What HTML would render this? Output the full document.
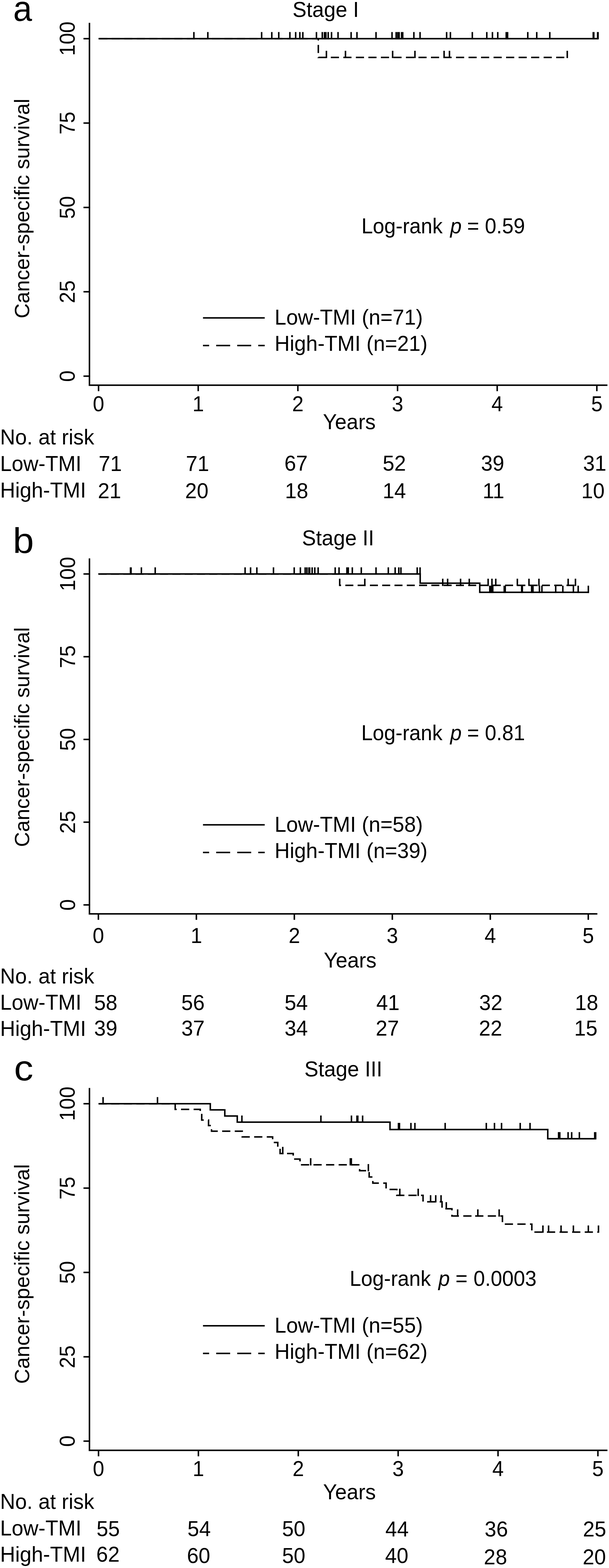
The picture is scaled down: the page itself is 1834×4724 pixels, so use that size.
<!DOCTYPE html>
<html><head><meta charset="utf-8"><title>Cancer-specific survival by TMI, stages I-III</title>
<style>
html,body{margin:0;padding:0;background:#fff;}
svg{display:block;}
text{font-family:"Liberation Sans",Arial,Helvetica,sans-serif;font-size:63px;fill:#000;}
path{stroke:#000;stroke-width:4.5;fill:none;stroke-linecap:butt;stroke-linejoin:miter;}
.ldash{stroke-dasharray:42 21.3;stroke-dashoffset:23.5;}
</style></head>
<body>
<svg width="1834" height="4724" viewBox="0 0 1834 4724">
<rect width="1834" height="4724" fill="#fff"/>
<!-- panel a -->
<text transform="translate(39.7 63.0) scale(0.99 1.045)" style="font-size:103px">a</text>
<text transform="translate(881.1 50.9) scale(1 1.03)">Stage I</text>
<path d="M269.4 68.8V1162.8M267.1 1160.6H1829.3M251.4 1133.3H269.4M251.4 879.1H269.4M251.4 624.9H269.4M251.4 370.7H269.4M251.4 116.5H269.4M296.8 1160.6V1178.6M596.9 1160.6V1178.6M897.0 1160.6V1178.6M1197.2 1160.6V1178.6M1497.3 1160.6V1178.6M1797.4 1160.6V1178.6"/>
<text transform="translate(225.0 1133.3) rotate(-90) scale(1 1.045)" style="font-size:62px" text-anchor="middle">0</text>
<text transform="translate(225.0 879.1) rotate(-90) scale(1 1.045)" style="font-size:62px" text-anchor="middle">25</text>
<text transform="translate(225.0 624.9) rotate(-90) scale(1 1.045)" style="font-size:62px" text-anchor="middle">50</text>
<text transform="translate(225.0 370.7) rotate(-90) scale(1 1.045)" style="font-size:62px" text-anchor="middle">75</text>
<text transform="translate(225.0 116.5) rotate(-90) scale(1 1.045)" style="font-size:62px" text-anchor="middle">100</text>
<text transform="translate(88.0 628.3) rotate(-90)" style="font-size:62.7px" text-anchor="middle">Cancer-specific survival</text>
<text transform="translate(296.8 1239.0) scale(1 1.045)" style="font-size:62px" text-anchor="middle">0</text>
<text transform="translate(596.9 1239.0) scale(1 1.045)" style="font-size:62px" text-anchor="middle">1</text>
<text transform="translate(897.0 1239.0) scale(1 1.045)" style="font-size:62px" text-anchor="middle">2</text>
<text transform="translate(1197.2 1239.0) scale(1 1.045)" style="font-size:62px" text-anchor="middle">3</text>
<text transform="translate(1497.3 1239.0) scale(1 1.045)" style="font-size:62px" text-anchor="middle">4</text>
<text transform="translate(1797.4 1239.0) scale(1 1.045)" style="font-size:62px" text-anchor="middle">5</text>
<text transform="translate(972.6 1292.6) scale(1 1.03)">Years</text>
<path d="M296.7 116.5L1802.0 116.5"/>
<path d="M583.9 118.5V96.5M625.9 118.5V96.5M787.9 118.5V96.5M818.5 118.5V96.5M839.5 118.5V96.5M873.0 118.5V96.5M890.4 118.5V96.5M903.0 118.5V96.5M912.0 118.5V96.5M953.0 118.5V96.5M970.6 118.5V96.5M977.2 118.5V96.5M981.4 118.5V96.5M988.4 118.5V96.5M998.4 118.5V96.5M1018.0 118.5V96.5M1057.4 118.5V96.5M1075.0 118.5V96.5M1132.4 118.5V96.5M1180.6 118.5V96.5M1193.0 118.5V96.5M1198.0 118.5V96.5M1202.0 118.5V96.5M1209.5 118.5V96.5M1212.8 118.5V96.5M1246.4 118.5V96.5M1265.0 118.5V96.5M1345.0 118.5V96.5M1356.4 118.5V96.5M1422.4 118.5V96.5M1466.0 118.5V96.5M1483.0 118.5V96.5M1499.0 118.5V96.5M1524.5 118.5V96.5M1528.6 118.5V96.5M1589.4 118.5V96.5M1616.4 118.5V96.5M1655.7 118.5V96.5M1786.6 118.5V96.5M1788.2 118.5V96.5M1799.8 118.5V96.5M1801.0 118.5V96.5"/>
<path d="M296.7 116.5L958.6 116.5L958.6 173.0L1708.3 173.0" stroke-dasharray="24.5 13.2" stroke-dashoffset="-2.09"/>
<path d="M983.0 174.9V153.0M1040.4 174.9V153.0M1182.4 174.9V153.0M1249.6 174.9V153.0M1337.4 174.9V153.0M1353.6 174.9V153.0M1708.3 174.9V153.0"/>
<text transform="translate(0 703.2) scale(1 1.05)" style="font-size:62px"><tspan x="1088.4">Log-rank</tspan><tspan x="1355.8" font-style="italic">p</tspan><tspan x="1406.7">=</tspan><tspan x="1460.3">0.59</tspan></text>
<path d="M611.3 957.7L797.2 957.7"/>
<path d="M611.3 1041.0L797.2 1041.0" class="ldash"/>
<text transform="translate(827.1 978.4) scale(1 1.03)">Low-TMI (n=71)</text>
<text transform="translate(827.1 1057.2) scale(1 1.03)">High-TMI (n=21)</text>
<text transform="translate(0.2 1339.2) scale(1 1.03)">No. at risk</text>
<text transform="translate(0.2 1418.6) scale(1 1.03)">Low-TMI</text>
<text transform="translate(0.2 1498.6) scale(1 1.03)">High-TMI</text>
<text transform="translate(297.0 1418.5) scale(1 1.03)">71</text>
<text transform="translate(559.8 1418.5) scale(1 1.03)">71</text>
<text transform="translate(856.4 1418.3) scale(1 1.03)">67</text>
<text transform="translate(1152.5 1418.3) scale(1 1.03)">52</text>
<text transform="translate(1448.4 1418.0) scale(1 1.03)">39</text>
<text transform="translate(1756.0 1417.6) scale(1 1.03)">31</text>
<text transform="translate(294.8 1501.0) scale(1 1.03)">21</text>
<text transform="translate(557.6 1500.5) scale(1 1.03)">20</text>
<text transform="translate(858.2 1500.6) scale(1 1.03)">18</text>
<text transform="translate(1152.5 1500.9) scale(1 1.03)">14</text>
<text transform="translate(1453.4 1501.0) scale(1 1.03)">11</text>
<text transform="translate(1750.7 1500.8) scale(1 1.03)">10</text>
<!-- panel b -->
<text transform="translate(38.7 1666.2) scale(1.105 1.045)" style="font-size:103px">b</text>
<text transform="translate(909.6 1643.2) scale(1 1.03)">Stage II</text>
<path d="M269.4 1682.3V2755.4M267.1 2753.2H1799.0M251.4 2726.2H269.4M251.4 2477.0H269.4M251.4 2227.8H269.4M251.4 1978.5H269.4M251.4 1729.3H269.4M296.3 2753.2V2771.2M591.4 2753.2V2771.2M886.4 2753.2V2771.2M1181.5 2753.2V2771.2M1476.5 2753.2V2771.2M1771.6 2753.2V2771.2"/>
<text transform="translate(225.5 2726.2) rotate(-90) scale(1 1.045)" style="font-size:62px" text-anchor="middle">0</text>
<text transform="translate(225.5 2477.0) rotate(-90) scale(1 1.045)" style="font-size:62px" text-anchor="middle">25</text>
<text transform="translate(225.5 2227.8) rotate(-90) scale(1 1.045)" style="font-size:62px" text-anchor="middle">50</text>
<text transform="translate(225.5 1978.5) rotate(-90) scale(1 1.045)" style="font-size:62px" text-anchor="middle">75</text>
<text transform="translate(225.5 1729.3) rotate(-90) scale(1 1.045)" style="font-size:62px" text-anchor="middle">100</text>
<text transform="translate(88.0 2220.7) rotate(-90)" style="font-size:62.7px" text-anchor="middle">Cancer-specific survival</text>
<text transform="translate(296.3 2841.1) scale(1 1.045)" style="font-size:62px" text-anchor="middle">0</text>
<text transform="translate(591.4 2841.1) scale(1 1.045)" style="font-size:62px" text-anchor="middle">1</text>
<text transform="translate(886.4 2841.1) scale(1 1.045)" style="font-size:62px" text-anchor="middle">2</text>
<text transform="translate(1181.5 2841.1) scale(1 1.045)" style="font-size:62px" text-anchor="middle">3</text>
<text transform="translate(1476.5 2841.1) scale(1 1.045)" style="font-size:62px" text-anchor="middle">4</text>
<text transform="translate(1771.6 2841.1) scale(1 1.045)" style="font-size:62px" text-anchor="middle">5</text>
<text transform="translate(975.0 2914.6) scale(1 1.03)">Years</text>
<path d="M296.0 1729.3L1265.4 1729.3L1265.4 1757.0L1444.8 1757.0L1444.8 1784.5L1773.8 1784.5"/>
<path d="M393.0 1731.2V1709.3M394.6 1731.2V1709.3M425.8 1731.2V1709.3M467.4 1731.2V1709.3M738.1 1731.2V1709.3M754.6 1731.2V1709.3M773.5 1731.2V1709.3M823.6 1731.2V1709.3M886.0 1731.2V1709.3M904.6 1731.2V1709.3M919.0 1731.2V1709.3M924.3 1731.2V1709.3M930.4 1731.2V1709.3M932.6 1731.2V1709.3M940.0 1731.2V1709.3M948.0 1731.2V1709.3M958.1 1731.2V1709.3M1009.4 1731.2V1709.3M1021.0 1731.2V1709.3M1044.7 1731.2V1709.3M1048.8 1731.2V1709.3M1061.0 1731.2V1709.3M1088.0 1731.2V1709.3M1132.4 1731.2V1709.3M1169.4 1731.2V1709.3M1190.0 1731.2V1709.3M1201.0 1731.2V1709.3M1207.4 1731.2V1709.3M1256.4 1731.2V1709.3M1265.0 1731.2V1709.3M1475.0 1786.5V1764.5M1477.0 1786.5V1764.5M1481.0 1786.5V1764.5M1484.0 1786.5V1764.5M1518.5 1786.5V1764.5M1521.5 1786.5V1764.5M1571.0 1786.5V1764.5M1573.0 1786.5V1764.5M1601.0 1786.5V1764.5M1605.0 1786.5V1764.5M1624.5 1786.5V1764.5M1632.0 1786.5V1764.5M1673.5 1786.5V1764.5M1695.0 1786.5V1764.5M1726.8 1786.5V1764.5M1741.2 1786.5V1764.5M1771.8 1786.5V1764.5"/>
<path d="M296.0 1729.3L1023.0 1729.3L1023.0 1763.5L1733.0 1763.5" stroke-dasharray="24.1 12.9" stroke-dashoffset="-1.20"/>
<path d="M1098.6 1765.5V1743.5M1333.3 1765.5V1743.5M1348.0 1765.5V1743.5M1387.0 1765.5V1743.5M1413.2 1765.5V1743.5M1470.0 1765.5V1743.5M1481.5 1765.5V1743.5M1493.0 1765.5V1743.5M1558.0 1765.5V1743.5M1593.0 1765.5V1743.5M1623.0 1765.5V1743.5M1711.0 1765.5V1743.5M1733.0 1765.5V1743.5"/>
<text transform="translate(0 2230.2) scale(1 1.05)" style="font-size:62px"><tspan x="1087.9">Log-rank</tspan><tspan x="1355.8" font-style="italic">p</tspan><tspan x="1406.7">=</tspan><tspan x="1460.3">0.81</tspan></text>
<path d="M611.3 2485.0L797.2 2485.0"/>
<path d="M611.3 2568.3L797.2 2568.3" class="ldash"/>
<text transform="translate(827.1 2505.7) scale(1 1.03)">Low-TMI (n=58)</text>
<text transform="translate(827.1 2584.5) scale(1 1.03)">High-TMI (n=39)</text>
<text transform="translate(0.2 2962.7) scale(1 1.03)">No. at risk</text>
<text transform="translate(0.2 3042.4) scale(1 1.03)">Low-TMI</text>
<text transform="translate(0.2 3121.4) scale(1 1.03)">High-TMI</text>
<text transform="translate(283.4 3043.0) scale(1 1.03)">58</text>
<text transform="translate(546.1 3043.0) scale(1 1.03)">56</text>
<text transform="translate(856.9 3043.0) scale(1 1.03)">54</text>
<text transform="translate(1133.3 3043.0) scale(1 1.03)">41</text>
<text transform="translate(1443.1 3043.0) scale(1 1.03)">32</text>
<text transform="translate(1731.5 3043.0) scale(1 1.03)">18</text>
<text transform="translate(283.5 3120.4) scale(1 1.03)">39</text>
<text transform="translate(546.2 3120.0) scale(1 1.03)">37</text>
<text transform="translate(857.0 3120.0) scale(1 1.03)">34</text>
<text transform="translate(1131.5 3120.0) scale(1 1.03)">27</text>
<text transform="translate(1442.3 3119.5) scale(1 1.03)">22</text>
<text transform="translate(1729.2 3119.5) scale(1 1.03)">15</text>
<!-- panel c -->
<text transform="translate(42.3 3255.3) scale(1.126 1.045)" style="font-size:103px">c</text>
<text transform="translate(916.7 3243.0) scale(1 1.03)">Stage III</text>
<path d="M269.4 3277.8V4371.8M267.1 4369.5H1829.3M251.4 4341.8H269.4M251.4 4087.7H269.4M251.4 3833.6H269.4M251.4 3579.4H269.4M251.4 3325.3H269.4M296.7 4369.5V4387.5M597.5 4369.5V4387.5M898.3 4369.5V4387.5M1199.0 4369.5V4387.5M1499.8 4369.5V4387.5M1800.6 4369.5V4387.5"/>
<text transform="translate(225.0 4341.8) rotate(-90) scale(1 1.045)" style="font-size:62px" text-anchor="middle">0</text>
<text transform="translate(225.0 4087.7) rotate(-90) scale(1 1.045)" style="font-size:62px" text-anchor="middle">25</text>
<text transform="translate(225.0 3833.6) rotate(-90) scale(1 1.045)" style="font-size:62px" text-anchor="middle">50</text>
<text transform="translate(225.0 3579.4) rotate(-90) scale(1 1.045)" style="font-size:62px" text-anchor="middle">75</text>
<text transform="translate(225.0 3325.3) rotate(-90) scale(1 1.045)" style="font-size:62px" text-anchor="middle">100</text>
<text transform="translate(88.0 3838.3) rotate(-90)" style="font-size:62.7px" text-anchor="middle">Cancer-specific survival</text>
<text transform="translate(296.7 4447.2) scale(1 1.045)" style="font-size:62px" text-anchor="middle">0</text>
<text transform="translate(597.5 4447.2) scale(1 1.045)" style="font-size:62px" text-anchor="middle">1</text>
<text transform="translate(898.3 4447.2) scale(1 1.045)" style="font-size:62px" text-anchor="middle">2</text>
<text transform="translate(1199.0 4447.2) scale(1 1.045)" style="font-size:62px" text-anchor="middle">3</text>
<text transform="translate(1499.8 4447.2) scale(1 1.045)" style="font-size:62px" text-anchor="middle">4</text>
<text transform="translate(1800.6 4447.2) scale(1 1.045)" style="font-size:62px" text-anchor="middle">5</text>
<text transform="translate(973.0 4517.0) scale(1 1.03)">Years</text>
<path d="M296.7 3325.3L633.3 3325.3L633.3 3343.8L677.0 3343.8L677.0 3362.3L714.5 3362.3L714.5 3380.8L1174.5 3380.8L1174.5 3403.0L1649.6 3403.0L1649.6 3430.8L1795.5 3430.8"/>
<path d="M310.4 3327.2V3305.3M474.3 3327.2V3305.3M728.5 3382.8V3360.8M966.4 3382.8V3360.8M1058.4 3382.8V3360.8M1075.0 3382.8V3360.8M1077.5 3382.8V3360.8M1092.0 3382.8V3360.8M1200.0 3404.9V3383.0M1203.0 3404.9V3383.0M1237.5 3404.9V3383.0M1249.5 3404.9V3383.0M1340.6 3404.9V3383.0M1464.5 3404.9V3383.0M1489.1 3404.9V3383.0M1510.4 3404.9V3383.0M1566.6 3404.9V3383.0M1596.2 3404.9V3383.0M1682.2 3432.8V3410.8M1685.8 3432.8V3410.8M1710.8 3432.8V3410.8M1721.6 3432.8V3410.8M1744.8 3432.8V3410.8M1791.0 3432.8V3410.8M1793.8 3432.8V3410.8"/>
<path d="M296.7 3325.3L527.6 3325.3L527.6 3342.3L544.2 3342.3" stroke-dasharray="24.7 13.2" stroke-dashoffset="-0.20"/>
<path d="M544.2 3342.3L603.0 3342.3L603.0 3358.0L607.5 3358.0L607.5 3374.5L628.0 3374.5L628.0 3391.0L637.0 3391.0L637.0 3408.0L729.5 3408.0L729.5 3425.3L821.0 3425.3L821.0 3442.0L836.5 3442.0L836.5 3458.5L843.5 3458.5L843.5 3475.3L863.5 3475.3" stroke-dasharray="24.7 13.2" stroke-dashoffset="-1.00"/>
<path d="M863.5 3475.3L883.0 3475.3L883.0 3492.0L903.5 3492.0L903.5 3509.3L943.0 3509.3" stroke-dasharray="24.7 13.2" stroke-dashoffset="-1.00"/>
<path d="M943.0 3509.3L1083.0 3509.3L1083.0 3527.0L1111.7 3527.0L1111.7 3546.0L1122.8 3546.0L1122.8 3564.5L1162.7 3564.5L1162.7 3583.4L1195.0 3583.4L1195.0 3601.3L1229.0 3601.3" stroke-dasharray="24.7 13.2" stroke-dashoffset="-1.00"/>
<path d="M1229.0 3601.3L1274.0 3601.3L1274.0 3620.8L1331.2 3620.8L1331.2 3641.7L1361.0 3641.7L1361.0 3663.5L1430.0 3663.5" stroke-dasharray="24.7 13.2" stroke-dashoffset="-1.00"/>
<path d="M1430.0 3663.5L1513.1 3663.5L1513.1 3688.0L1601.6 3688.0L1601.6 3712.0L1608.3 3712.0" stroke-dasharray="24.7 13.2" stroke-dashoffset="-1.00"/>
<path d="M1608.3 3712.0L1802.3 3712.0" stroke-dasharray="24.7 13.2" stroke-dashoffset="-1.00"/>
<path d="M851.5 3477.2V3455.3M935.6 3511.2V3489.3M1055.0 3511.2V3489.3M1058.0 3511.2V3489.3M1109.3 3528.9V3507.0M1204.0 3603.2V3581.3M1259.4 3603.2V3581.3M1296.7 3622.8V3600.8M1312.2 3622.8V3600.8M1328.2 3622.8V3600.8M1344.0 3643.6V3621.7M1378.2 3665.4V3643.5M1439.0 3665.4V3643.5M1503.2 3665.4V3643.5M1635.0 3713.9V3692.0M1652.0 3713.9V3692.0M1689.6 3713.9V3692.0M1726.8 3713.9V3692.0M1771.8 3713.9V3692.0M1802.3 3713.9V3692.0"/>
<text transform="translate(0 3873.9) scale(1 1.05)" style="font-size:62px"><tspan x="1052.9">Log-rank</tspan><tspan x="1320.2" font-style="italic">p</tspan><tspan x="1371.8">=</tspan><tspan x="1426.1">0.0003</tspan></text>
<path d="M611.3 3994.3L797.2 3994.3"/>
<path d="M611.3 4077.6L797.2 4077.6" class="ldash"/>
<text transform="translate(827.1 4015.0) scale(1 1.03)">Low-TMI (n=55)</text>
<text transform="translate(827.1 4093.8) scale(1 1.03)">High-TMI (n=62)</text>
<text transform="translate(0.2 4546.4) scale(1 1.03)">No. at risk</text>
<text transform="translate(0.2 4625.8) scale(1 1.03)">Low-TMI</text>
<text transform="translate(0.2 4704.5) scale(1 1.03)">High-TMI</text>
<text transform="translate(290.8 4628.0) scale(1 1.03)">55</text>
<text transform="translate(564.6 4628.0) scale(1 1.03)">54</text>
<text transform="translate(849.5 4628.3) scale(1 1.03)">50</text>
<text transform="translate(1160.6 4628.6) scale(1 1.03)">44</text>
<text transform="translate(1459.6 4628.6) scale(1 1.03)">36</text>
<text transform="translate(1755.5 4628.6) scale(1 1.03)">25</text>
<text transform="translate(290.1 4705.3) scale(1 1.03)">62</text>
<text transform="translate(563.0 4709.0) scale(1 1.03)">60</text>
<text transform="translate(849.5 4709.4) scale(1 1.03)">50</text>
<text transform="translate(1159.8 4708.8) scale(1 1.03)">40</text>
<text transform="translate(1457.1 4713.4) scale(1 1.03)">28</text>
<text transform="translate(1754.8 4713.4) scale(1 1.03)">20</text>
</svg>
</body></html>
